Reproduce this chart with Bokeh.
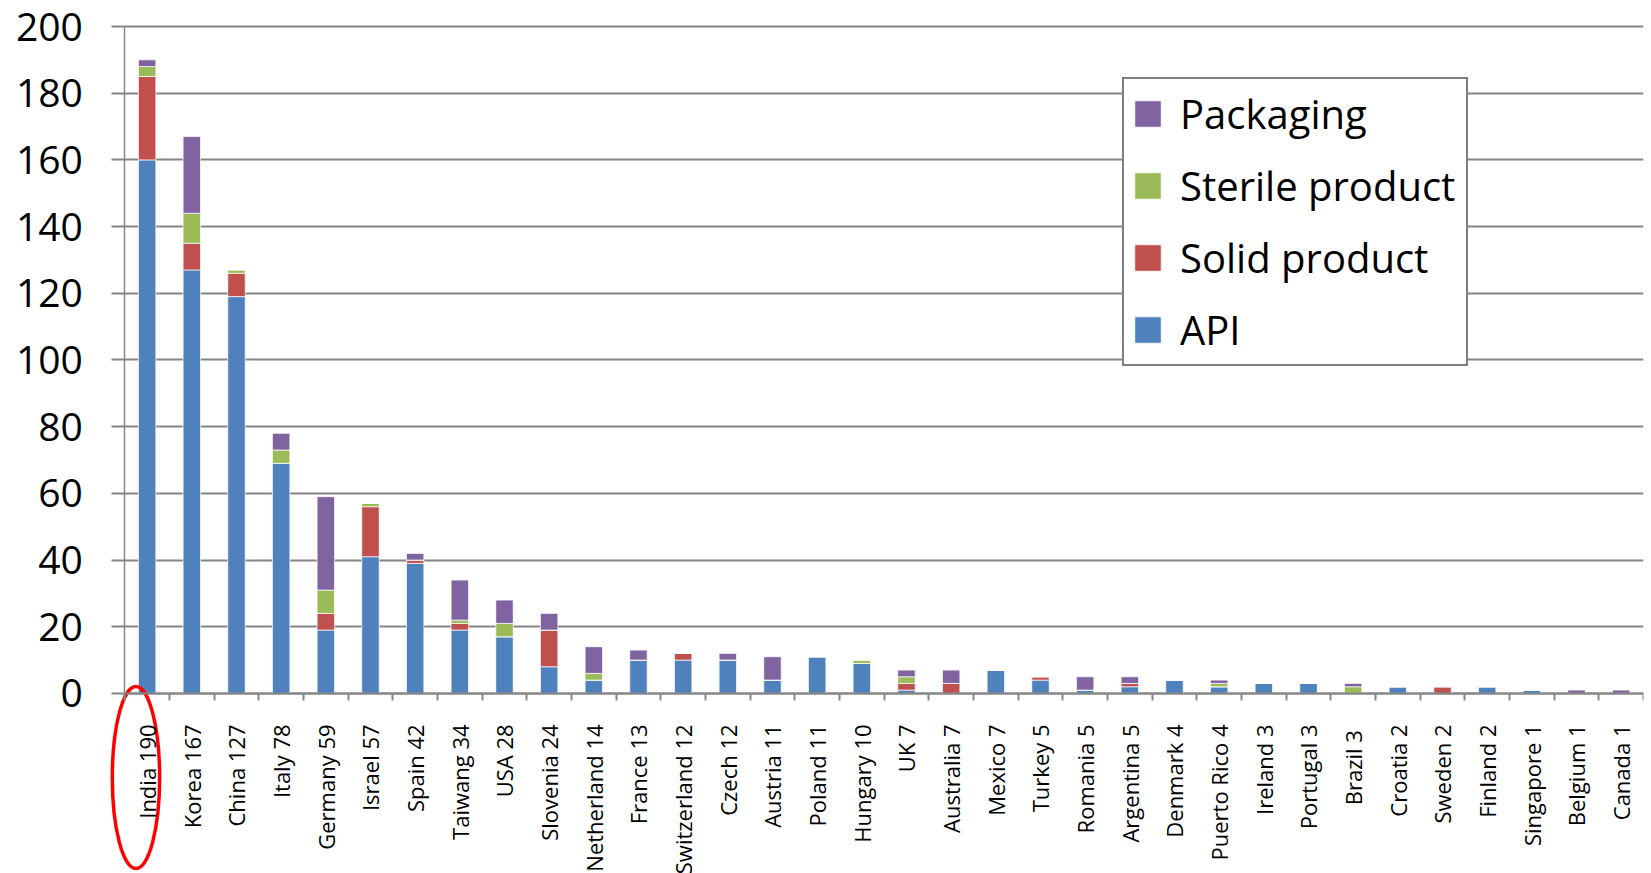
import numpy as np
from bokeh.plotting import figure
from bokeh.models import ColumnDataSource, Range1d, FixedTicker, Legend, LegendItem
from bokeh.embed import file_html
from bokeh.resources import INLINE

categories = ["India 190", "Korea 167", "China 127", "Italy 78", "Germany 59", "Israel 57",
              "Spain 42", "Taiwang 34", "USA 28", "Slovenia 24", "Netherland 14", "France 13",
              "Switzerland 12", "Czech 12", "Austria 11", "Poland 11", "Hungary 10", "UK 7",
              "Australia 7", "Mexico 7", "Turkey 5", "Romania 5", "Argentina 5", "Denmark 4",
              "Puerto Rico 4", "Ireland 3", "Portugal 3", "Brazil  3", "Croatia 2", "Sweden 2",
              "Finland 2", "Singapore 1", "Belgium 1", "Canada 1"]
api       = [160, 127, 119, 69, 19, 41, 39, 19, 17, 8, 4, 10, 10, 10, 4, 11, 9, 1, 0, 7, 4, 1, 2, 4, 2, 3, 3, 0, 2, 0, 2, 1, 0, 0]
solid     = [25, 8, 7, 0, 5, 15, 1, 2, 0, 11, 0, 0, 2, 0, 0, 0, 0, 2, 3, 0, 1, 0, 1, 0, 0, 0, 0, 0, 0, 2, 0, 0, 0, 0]
sterile   = [3, 9, 1, 4, 7, 1, 0, 1, 4, 0, 2, 0, 0, 0, 0, 0, 1, 2, 0, 0, 0, 0, 0, 0, 1, 0, 0, 2, 0, 0, 0, 0, 0, 0]
packaging = [2, 23, 0, 5, 28, 0, 2, 12, 7, 5, 8, 3, 0, 2, 7, 0, 0, 2, 4, 0, 0, 4, 2, 0, 1, 0, 0, 1, 0, 0, 0, 0, 1, 1]
y_ticks = list(range(0, 201, 20))

series = ["api", "solid", "sterile", "packaging"]
series_names = ["API", "Solid product", "Sterile product", "Packaging"]
colors = ["#4F81BD", "#C0504D", "#9BBB59", "#8064A2"]

n = len(categories)
centers = [i + 0.5 for i in range(n)]
bounds = [float(i) for i in range(n + 1)]

src = ColumnDataSource(dict(x=centers, api=api, solid=solid, sterile=sterile, packaging=packaging))

GRID = "#868686"
FONT = "Open Sans"

# the frame covers the whole canvas (except a thin right margin); both axes are
# fixed at 0 so tick labels and the red highlight ellipse are drawn unclipped
p = figure(width=1651, height=873, output_backend="svg", toolbar_location=None,
           x_range=Range1d(-2.783, n), y_range=Range1d(-54, 207.8),
           min_border_left=0, min_border_right=8, min_border_top=0, min_border_bottom=0)
p.outline_line_color = None
p.background_fill_color = "white"
p.border_fill_color = "white"

renderers = p.vbar_stack(series, x="x", width=0.39, source=src, color=colors,
                         line_color="white", line_width=1, line_alpha=0.7)

# grid
p.xgrid.visible = False
p.ygrid.ticker = FixedTicker(ticks=y_ticks)
p.ygrid.cross_bounds = (0, n)
p.ygrid.grid_line_color = GRID
p.ygrid.grid_line_width = 2

# y axis, fixed at x = 0
ya = p.yaxis[0]
ya.fixed_location = 0
ya.ticker = FixedTicker(ticks=y_ticks)
ya.bounds = (0, 200)
ya.axis_line_color = GRID
ya.axis_line_width = 1.5
ya.major_tick_line_color = GRID
ya.major_tick_line_width = 2
ya.major_tick_out = 13
ya.major_tick_in = 0
ya.minor_tick_line_color = None
ya.major_label_text_font = FONT
ya.major_label_text_font_size = "39px"
ya.major_label_text_color = "black"
ya.major_label_standoff = 29

# x axis, fixed at y = 0
xa = p.xaxis[0]
xa.fixed_location = 0
xa.bounds = (0, n)
xa.ticker = FixedTicker(ticks=centers, minor_ticks=bounds)
xa.major_label_overrides = {c: lab for c, lab in zip(centers, categories)}
xa.axis_line_color = GRID
xa.axis_line_width = 2
xa.major_tick_line_color = None
xa.major_tick_out = 0
xa.major_tick_in = 0
xa.minor_tick_line_color = GRID
xa.minor_tick_line_width = 2
xa.minor_tick_out = 7
xa.minor_tick_in = 0
xa.major_label_orientation = np.pi / 2
xa.major_label_text_font = FONT
xa.major_label_text_font_size = "22px"
xa.major_label_text_color = "black"
xa.major_label_standoff = 24

# legend (reverse order: Packaging on top)
items = [LegendItem(label=series_names[i], renderers=[renderers[i]]) for i in [3, 2, 1, 0]]
legend = Legend(items=items, location=(1122, 507), orientation="vertical",
                label_text_font=FONT, label_text_font_size="40px", label_text_color="black",
                glyph_width=33, glyph_height=33, label_standoff=16, label_height=50,
                label_width=279, spacing=17, padding=7, margin=0,
                border_line_color="black", border_line_width=2,
                background_fill_color="white", background_fill_alpha=1)
p.add_layout(legend, "center")

# red ellipse highlighting the first category label
p.ellipse(x=[0.25], y=[-25.2], width=[1.06], height=[54.6],
          fill_alpha=0, line_color="#FF0000", line_width=3.5)

open("out.html", "w").write(file_html(p, INLINE))
